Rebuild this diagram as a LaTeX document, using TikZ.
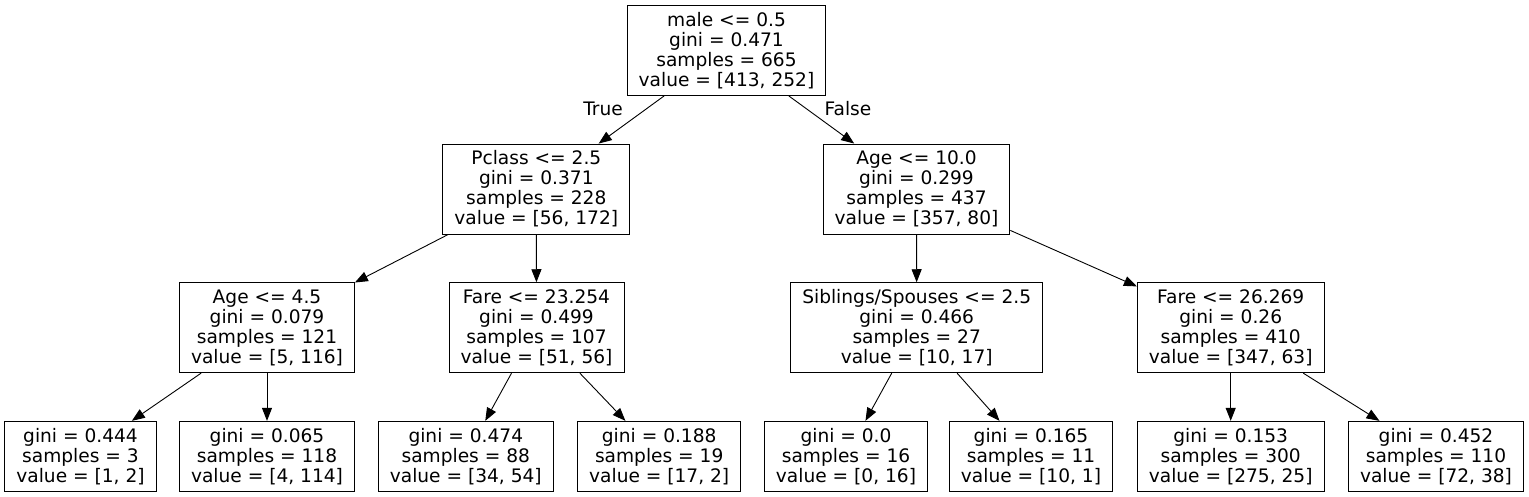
\documentclass[tikz,border=0pt]{standalone}
\usepackage{fontspec}
\setmainfont{DejaVu Sans}
\usetikzlibrary{arrows.meta}

\begin{document}
\begin{tikzpicture}[x=1pt, y=-1pt,
        split/.style={rectangle, draw=black, line width=0.9pt, fill=white, align=center, inner xsep=11.5pt, inner ysep=0pt, minimum height=90pt, font=\fontsize{18.6}{20}\selectfont},
        leaf/.style={split, minimum height=70pt},
        branch/.style={-{Triangle[length=13pt, width=10pt]}, line width=0.9pt},
        lbl/.style={font=\fontsize{18.6}{20}\selectfont}
    ]
        \useasboundingbox (0,0) rectangle (1529,497);

        % Splits
        \node[split] (root) at (726.5,50.5) {male <= 0.5\\gini = 0.471\\samples = 665\\value = [413, 252]};
        \node[split] (pclass) at (536.3,189) {Pclass <= 2.5\\gini = 0.371\\samples = 228\\value = [56, 172]};
        \node[split] (age10) at (916.5,189) {Age <= 10.0\\gini = 0.299\\samples = 437\\value = [357, 80]};
        \node[split] (age45) at (267,327.7) {Age <= 4.5\\gini = 0.079\\samples = 121\\value = [5, 116]};
        \node[split] (fare23) at (536.5,327.7) {Fare <= 23.254\\gini = 0.499\\samples = 107\\value = [51, 56]};
        \node[split] (sibsp) at (916.7,327.7) {Siblings/Spouses <= 2.5\\gini = 0.466\\samples = 27\\value = [10, 17]};
        \node[split] (fare26) at (1230.7,327.7) {Fare <= 26.269\\gini = 0.26\\samples = 410\\value = [347, 63]};

        % Leaves
        \node[leaf] (leafa) at (80.5,456.3) {gini = 0.444\\samples = 3\\value = [1, 2]};
        \node[leaf] (leafb) at (267,456.3) {gini = 0.065\\samples = 118\\value = [4, 114]};
        \node[leaf] (leafc) at (465.8,456.3) {gini = 0.474\\samples = 88\\value = [34, 54]};
        \node[leaf] (leafd) at (659.2,456.3) {gini = 0.188\\samples = 19\\value = [17, 2]};
        \node[leaf] (leafe) at (846,456.3) {gini = 0.0\\samples = 16\\value = [0, 16]};
        \node[leaf] (leaff) at (1031,456.3) {gini = 0.165\\samples = 11\\value = [10, 1]};
        \node[leaf] (leafg) at (1230.7,456.3) {gini = 0.153\\samples = 300\\value = [275, 25]};
        \node[leaf] (leafh) at (1436,456.3) {gini = 0.452\\samples = 110\\value = [72, 38]};

        % Branches
        \draw[branch] (root) -- (pclass);
        \draw[branch] (root) -- (age10);
        \node[lbl] (true) at (603,109) {True};
        \node[lbl] (false) at (848,109) {False};
        \foreach \a/\b in {pclass/age45, pclass/fare23, age10/sibsp, age10/fare26,
                           age45/leafa, age45/leafb, fare23/leafc, fare23/leafd,
                           sibsp/leafe, sibsp/leaff, fare26/leafg, fare26/leafh}
            \draw[branch] (\a) -- (\b);
    \end{tikzpicture}
\end{document}
